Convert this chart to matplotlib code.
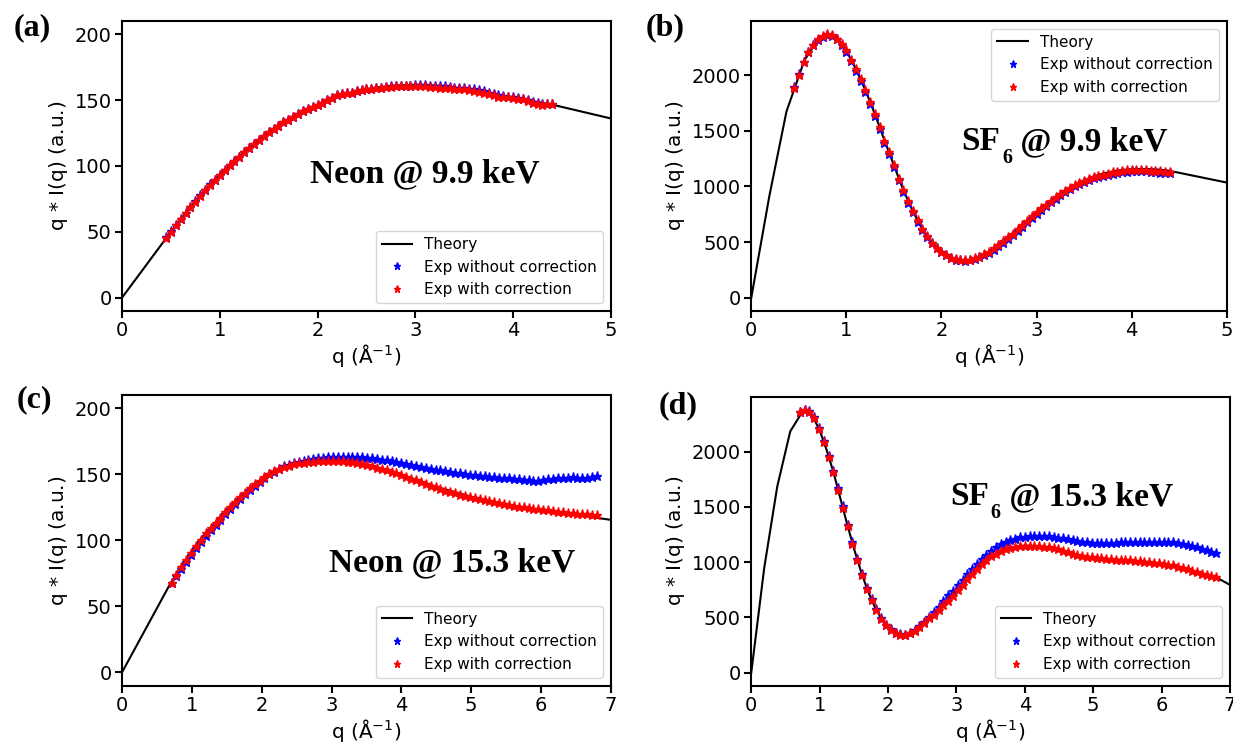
import matplotlib
matplotlib.use("Agg")
import matplotlib.pyplot as plt

# ---------------- data ----------------
# experimental q grid, 9.9 keV panels
q_99 = [0.45, 0.50, 0.55, 0.60, 0.65, 0.70, 0.75, 0.80, 0.85, 0.90,
        0.95, 1.00, 1.05, 1.10, 1.15, 1.20, 1.25, 1.30, 1.35, 1.40,
        1.45, 1.50, 1.55, 1.60, 1.65, 1.70, 1.75, 1.80, 1.85, 1.90,
        1.95, 2.00, 2.05, 2.10, 2.15, 2.20, 2.25, 2.30, 2.35, 2.40,
        2.45, 2.50, 2.55, 2.60, 2.65, 2.70, 2.75, 2.80, 2.85, 2.90,
        2.95, 3.00, 3.05, 3.10, 3.15, 3.20, 3.25, 3.30, 3.35, 3.40,
        3.45, 3.50, 3.55, 3.60, 3.65, 3.70, 3.75, 3.80, 3.85, 3.90,
        3.95, 4.00, 4.05, 4.10, 4.15, 4.20, 4.25, 4.30, 4.35, 4.40]

# experimental q grid, 15.3 keV panels
q_153 = [0.71, 0.78, 0.85, 0.92, 0.99, 1.06, 1.13, 1.20, 1.27, 1.34,
         1.41, 1.48, 1.55, 1.62, 1.69, 1.76, 1.83, 1.90, 1.97, 2.04,
         2.11, 2.18, 2.25, 2.32, 2.39, 2.46, 2.53, 2.60, 2.67, 2.74,
         2.81, 2.88, 2.95, 3.02, 3.09, 3.16, 3.23, 3.30, 3.37, 3.44,
         3.51, 3.58, 3.65, 3.72, 3.79, 3.86, 3.93, 4.00, 4.07, 4.14,
         4.21, 4.28, 4.35, 4.42, 4.49, 4.56, 4.63, 4.70, 4.77, 4.84,
         4.91, 4.98, 5.05, 5.12, 5.19, 5.26, 5.33, 5.40, 5.47, 5.54,
         5.61, 5.68, 5.75, 5.82, 5.89, 5.96, 6.03, 6.10, 6.17, 6.24,
         6.31, 6.38, 6.45, 6.52, 6.59, 6.66, 6.73, 6.80]

# (a) Neon @ 9.9 keV
neon99_th_q = [0, 0.45, 0.6, 0.8, 1.0, 1.2, 1.4, 1.6, 1.8, 2.0, 2.2, 2.4,
               2.6, 2.8, 3.0, 3.2, 3.4, 3.6, 3.8, 4.0, 4.2, 4.4, 5.0]
neon99_th = [0, 45, 59.5, 77.5, 93.5, 107, 120, 130.5, 139.5, 146.5, 152.5, 156.5,
             159.5, 161, 161.5, 161, 159.5, 157.5, 154.5, 152, 149, 146.5, 136]
neon99_blue = [46, 50.5, 55.5, 60, 64.5, 69, 73.5, 78, 82, 86,
               89.5, 93.5, 97, 100.5, 104, 107, 110.5, 113.5, 117, 120,
               122.5, 125.5, 128, 130.5, 133, 135, 137.5, 139.5, 141.5, 143.5,
               145, 146.5, 148, 150, 151.5, 153.5, 154.5, 155, 155.5, 156.5,
               157.5, 158, 158.5, 159, 159.5, 160, 160.5, 161, 161, 161,
               161, 161.5, 161.5, 161.5, 161, 161, 160.5, 160.5, 160, 159.5,
               159.5, 159, 158.5, 158, 157.5, 156.5, 155.5, 154.5, 153.5, 153,
               152.5, 152, 151.5, 151, 150, 148.5, 147.5, 147, 147, 147]
neon99_red = [45.5, 50, 55, 59.5, 64, 68.5, 73, 77.5, 81.5, 85.5,
              89.5, 93.5, 97, 100.5, 104, 107, 110.5, 113.5, 117, 120,
              122.5, 125.5, 128, 130.5, 133, 135, 137.5, 139.5, 141.5, 143.5,
              145, 146.5, 148, 150, 151.5, 153.5, 154.5, 155, 155.5, 156.5,
              157.5, 158, 158.5, 159, 159.5, 160, 160, 160.5, 160.5, 160.5,
              160.5, 161, 160.5, 160.5, 160, 160, 159.5, 159.5, 159, 158.5,
              158.5, 158, 157.5, 157, 156, 155.5, 154.5, 153.5, 152.5, 152,
              152, 151.5, 151, 150.5, 149.5, 148, 147, 146.5, 147, 147]

# (b) SF6 @ 9.9 keV
sf699_th_q = [0, 0.19, 0.37, 0.56, 0.7, 0.8, 0.9, 1.0, 1.1, 1.2, 1.3, 1.4, 1.5,
              1.6, 1.7, 1.8, 1.9, 2.0, 2.1, 2.2, 2.3, 2.4, 2.5, 2.6, 2.7, 2.8,
              2.9, 3.0, 3.1, 3.2, 3.3, 3.4, 3.5, 3.6, 3.7, 3.8, 3.9, 4.0, 4.1,
              4.2, 4.3, 4.4, 5.0]
sf699_th = [0, 913, 1673, 2135, 2318, 2365, 2330, 2220, 2055, 1865, 1650, 1415, 1190,
            965, 775, 615, 495, 410, 355, 330, 325, 355, 410, 475, 545, 620,
            695, 770, 840, 905, 960, 1010, 1055, 1090, 1115, 1135, 1148, 1155, 1157,
            1155, 1150, 1140, 1035]
sf699_blue = [1895, 2010, 2120, 2205, 2268, 2316, 2346, 2362, 2352, 2320,
              2270, 2208, 2125, 2038, 1948, 1848, 1742, 1632, 1512, 1393,
              1288, 1173, 1055, 950, 852, 768, 685, 606, 545, 489,
              443, 408, 381, 357, 342, 335, 334, 338, 348, 362,
              382, 404, 432, 462, 494, 528, 562, 600, 638, 678,
              716, 755, 790, 824, 858, 890, 921, 950, 976, 1000,
              1022, 1042, 1058, 1072, 1084, 1095, 1106, 1115, 1123, 1129,
              1133, 1136, 1137, 1137, 1135, 1132, 1128, 1125, 1122, 1120]
sf699_red = [1880, 2000, 2115, 2204, 2270, 2320, 2350, 2368, 2358, 2328,
             2280, 2222, 2140, 2053, 1965, 1865, 1760, 1650, 1530, 1410,
             1305, 1190, 1070, 965, 865, 780, 695, 615, 552, 495,
             448, 412, 385, 360, 345, 338, 337, 343, 355, 370,
             392, 415, 444, 475, 508, 542, 575, 614, 652, 692,
             730, 768, 803, 836, 870, 902, 932, 960, 985, 1010,
             1032, 1052, 1068, 1082, 1094, 1105, 1116, 1126, 1134, 1140,
             1144, 1147, 1148, 1148, 1147, 1143, 1140, 1136, 1132, 1128]

# (c) Neon @ 15.3 keV
neon153_th_q = [0, 0.35, 0.7, 0.9, 1.1, 1.3, 1.5, 1.7, 1.9, 2.1, 2.3, 2.5, 2.7,
                2.9, 3.1, 3.3, 3.5, 3.75, 4.0, 4.5, 5.0, 5.5, 6.0, 6.5, 7.0]
neon153_th = [0, 34, 68, 84.5, 99.5, 111.5, 123.3, 133.3, 142, 149.5, 154.5, 157.5, 159.3,
              160, 160, 159.2, 157.3, 154, 149.7, 140.5, 133, 127, 123, 119.3, 115.5]
neon153_blue = [67.5, 73.3, 78.6, 83.9, 89.2, 94.3, 99, 103.5, 107.6, 111.6,
                115.6, 119.7, 123.7, 127.6, 131.2, 134.8, 138.2, 141.4, 144.4, 147.3,
                149.9, 152.1, 154.2, 155.9, 157.4, 158.6, 159.6, 160.4, 161.1, 161.7,
                162.2, 162.6, 162.9, 163.1, 163.2, 163.3, 163.4, 163.4, 163.3, 163,
                162.6, 162.1, 161.6, 161.1, 160.6, 160, 159.4, 158.7, 158, 157.2,
                156.4, 155.6, 154.9, 154.2, 153.5, 152.9, 152.3, 151.7, 151.1, 150.6,
                150.1, 149.7, 149.3, 148.9, 148.5, 148.1, 147.8, 147.5, 147.2, 146.9,
                146.6, 146.3, 145.9, 145.4, 144.9, 145.2, 145.8, 146.3, 146.7, 147,
                147.3, 147.5, 147.6, 147.4, 147, 147.4, 148.2, 149]
neon153_red = [67.8, 74, 79.5, 85, 90.5, 95.8, 100.6, 105.2, 109.3, 113.3,
               117.2, 121.3, 125.2, 129, 132.5, 136, 139.3, 142.3, 145.2, 148,
               150.3, 152.2, 154, 155.3, 156.5, 157.5, 158.2, 158.8, 159.2, 159.6,
               159.9, 160.1, 160.2, 160.2, 160.1, 159.8, 159.5, 159.1, 158.6, 157.8,
               157, 156, 155, 154, 152.9, 151.8, 150.6, 149.3, 148, 146.6,
               145.3, 144, 142.6, 141.3, 140, 138.8, 137.6, 136.5, 135.5, 134.6,
               133.8, 133, 132.2, 131.4, 130.6, 129.8, 129, 128.3, 127.6, 126.9,
               126.2, 125.5, 124.9, 124.3, 123.8, 123.5, 123.2, 122.8, 122.3, 121.8,
               121.3, 120.9, 120.5, 120.2, 119.9, 119.6, 119.3, 119.2]

# (d) SF6 @ 15.3 keV
sf6153_th_q = [0, 0.19, 0.38, 0.57, 0.76, 0.9, 1.0, 1.1, 1.2, 1.3, 1.4, 1.5, 1.6,
               1.7, 1.8, 1.9, 2.0, 2.1, 2.2, 2.3, 2.4, 2.5, 2.6, 2.8, 3.0, 3.2,
               3.4, 3.6, 3.8, 4.0, 4.25, 4.5, 4.75, 5.0, 5.25, 5.5, 5.75, 6.0,
               6.25, 6.5, 6.8, 7.0]
sf6153_th = [0, 950, 1685, 2185, 2375, 2320, 2195, 2020, 1820, 1585, 1350, 1127, 926,
             746, 604, 490, 409, 358, 338, 335, 375, 430, 494, 605, 730, 875,
             1000, 1085, 1132, 1150, 1142, 1112, 1068, 1042, 1027, 1018, 1005, 988,
             955, 910, 862, 795]
sf6153_blue = [2365, 2380, 2368, 2312, 2212, 2098, 1965, 1828, 1670, 1506,
               1338, 1180, 1032, 897, 768, 666, 572, 493, 433, 392,
               360, 345, 344, 360, 388, 420, 462, 500, 548, 598,
               650, 700, 742, 792, 843, 890, 940, 988, 1030, 1068,
               1105, 1137, 1165, 1187, 1203, 1214, 1224, 1232, 1237, 1240,
               1240, 1237, 1233, 1228, 1222, 1215, 1207, 1200, 1193, 1186,
               1180, 1175, 1172, 1170, 1170, 1172, 1176, 1179, 1181, 1183,
               1184, 1185, 1186, 1186, 1186, 1186, 1185, 1183, 1180, 1176,
               1168, 1158, 1146, 1133, 1119, 1106, 1094, 1083]
sf6153_red = [2360, 2378, 2362, 2305, 2205, 2090, 1955, 1817, 1658, 1494,
              1326, 1169, 1022, 888, 760, 659, 566, 488, 428, 387,
              356, 341, 341, 356, 381, 414, 453, 490, 525, 565,
              608, 652, 695, 745, 797, 845, 895, 940, 985, 1020,
              1052, 1078, 1100, 1118, 1130, 1140, 1146, 1150, 1151, 1150,
              1146, 1140, 1133, 1125, 1116, 1103, 1090, 1077, 1065, 1056,
              1049, 1043, 1039, 1035, 1031, 1027, 1023, 1021, 1019, 1016,
              1013, 1010, 1006, 1002, 997, 991, 985, 978, 970, 960,
              948, 935, 922, 908, 895, 884, 874, 862]

plt.rcParams['font.family'] = ['DejaVu Sans']
serif = dict(family='Liberation Serif', fontweight='bold')

fig = plt.figure(figsize=(12.33, 7.45), dpi=100)

ax_a = fig.add_axes([0.0989, 0.5826, 0.3966, 0.3893])
ax_b = fig.add_axes([0.6093, 0.5826, 0.3856, 0.3893])
ax_c = fig.add_axes([0.0989, 0.0796, 0.3966, 0.3902])
ax_d = fig.add_axes([0.6093, 0.0796, 0.3882, 0.3879])


def draw_panel(ax, q_th, th, q_exp, blue, red, xmax, yticks, loc):
    ax.plot(q_th, th, color='k', lw=1.5, label='Theory')
    ax.plot(q_exp, blue, '*', color='b', ms=6.5, label='Exp without correction')
    ax.plot(q_exp, red, '*', color='r', ms=6.5, label='Exp with correction')
    ax.set_xlim(0, xmax)
    ax.set_xticks(range(0, xmax + 1))
    ax.set_yticks(yticks)
    ax.tick_params(labelsize=14, width=1.5, length=5, pad=2.5)
    for s in ax.spines.values():
        s.set_linewidth(1.5)
    ax.set_xlabel(r'q (Å$^{-1}$)', fontsize=14.5, labelpad=1)
    ax.set_ylabel(r'q $*$ I(q) (a.u.)', fontsize=14.5, labelpad=3)
    ax.legend(loc=loc, fontsize=11, markerscale=0.8)


def sf6_note(ax, x, y, rest):
    # "SF" + lowered "6" + rest, chained so the subscript sits low like the original
    t1 = ax.text(x, y, 'SF', transform=ax.transAxes, ha='left', va='baseline',
                 fontsize=24, **serif)
    t2 = ax.annotate('6', xy=(1, 0), xycoords=t1, xytext=(1.5, -8),
                     textcoords='offset points', ha='left', va='bottom',
                     fontsize=14.5, **serif)
    ax.annotate(rest, xy=(1, 0), xycoords=t2, xytext=(0, 8),
                textcoords='offset points', ha='left', va='bottom',
                fontsize=24, **serif)


draw_panel(ax_a, neon99_th_q, neon99_th, q_99, neon99_blue, neon99_red, 5,
           [0, 50, 100, 150, 200], 'lower right')
ax_a.set_ylim(-10, 210)
ax_a.text(0.62, 0.445, 'Neon @ 9.9 keV', transform=ax_a.transAxes,
          ha='center', va='baseline', fontsize=24, **serif)

draw_panel(ax_b, sf699_th_q, sf699_th, q_99, sf699_blue, sf699_red, 5,
           [0, 500, 1000, 1500, 2000], 'upper right')
sf6_note(ax_b, 0.441, 0.555, ' @ 9.9 keV')

draw_panel(ax_c, neon153_th_q, neon153_th, q_153, neon153_blue, neon153_red, 7,
           [0, 50, 100, 150, 200], 'lower right')
ax_c.set_ylim(-10, 210)
ax_c.text(0.675, 0.392, 'Neon @ 15.3 keV', transform=ax_c.transAxes,
          ha='center', va='baseline', fontsize=24, **serif)

draw_panel(ax_d, sf6153_th_q, sf6153_th, q_153, sf6153_blue, sf6153_red, 7,
           [0, 500, 1000, 1500, 2000], 'lower right')
sf6_note(ax_d, 0.415, 0.625, ' @ 15.3 keV')

# panel letters
for lab, x, y in [('(a)', 32, 28), ('(b)', 665, 28), ('(c)', 34, 400), ('(d)', 678, 406)]:
    fig.text(x / 1233, 1 - y / 745, lab, ha='center', va='center', fontsize=23, **serif)

fig.savefig('out.png', dpi=100)
